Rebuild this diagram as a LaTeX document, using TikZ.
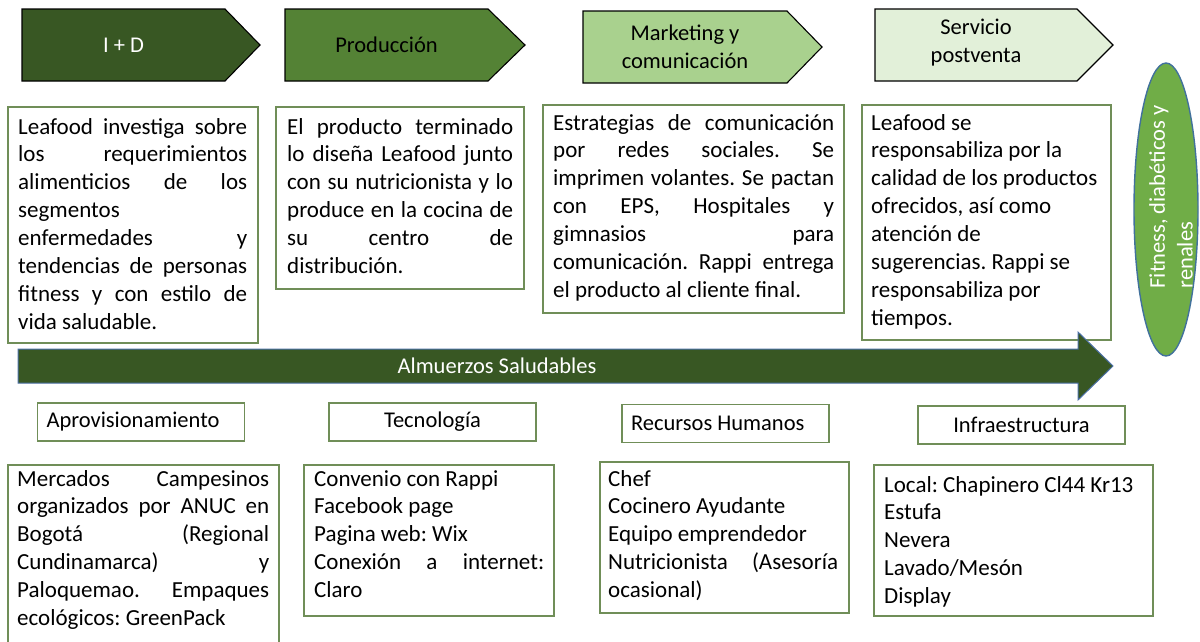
\documentclass[tikz,border=0pt]{standalone}
\usepackage{fontspec}
\setmainfont{Carlito}
\usetikzlibrary{shapes.geometric}
\frenchspacing
\definecolor{gD}{HTML}{385723}
\definecolor{gM}{HTML}{548235}
\definecolor{gL}{HTML}{A9D18E}
\definecolor{gXL}{HTML}{E2F0D9}
\definecolor{gA}{HTML}{70AD47}
\definecolor{bordG}{HTML}{708E58}
\definecolor{bordB}{HTML}{41719C}
\definecolor{arrB}{HTML}{4A6FA5}
\newcommand\bodyfont{\fontsize{23pt}{27.9pt}\selectfont}
\newcommand\labfont{\fontsize{22.5pt}{27.9pt}\selectfont}
\newcommand\rs{\spaceskip=0pt\xspaceskip=0pt\relax}
\newcommand\J[1]{{\rs\makebox[\linewidth][s]{#1}}}
\begin{document}
\begin{tikzpicture}[x=1pt,y=-1pt,
  chev/.style={draw=black,line width=1.1pt},
  boxframe/.style={draw=bordG,line width=1.1pt,inner sep=0pt},
  txt/.style={inner sep=0pt,font=\bodyfont,align=left,anchor=base west,execute at begin node={\rs}},
  lab/.style={draw=bordG,line width=1.1pt,font=\labfont,inner ysep=0pt,inner xsep=9pt,minimum width=207,minimum height=38,execute at begin node={\rs}},
  chevtxt/.style={font=\labfont,align=center,inner sep=0pt,execute at begin node={\rs}}]
\useasboundingbox (0,0) rectangle (1200,641);
\clip (0,0) rectangle (1200,641);
\fill[white] (0,0) rectangle (1200,641);

% chevrons
\draw[chev,fill=gD] (22,9) -- (225,9) -- (260,45) -- (225,81) -- (22,81) -- cycle;
\draw[chev,fill=gM] (285,9) -- (488,9) -- (525,45) -- (488,81) -- (285,81) -- cycle;
\draw[chev,fill=gL] (583,11) -- (787,11) -- (822,47) -- (787,83) -- (583,83) -- cycle;
\draw[chev,fill=gXL] (875,9) -- (1077,9) -- (1113,45) -- (1077,81) -- (875,81) -- cycle;
\node[chevtxt,text=white] (c1) at (123.5,45) {I + D};
\node[chevtxt] (c2) at (386.5,45) {Producción};
\node[chevtxt] (c3) at (685,47) {Marketing y\\comunicación};
\node[chevtxt] (c4) at (976,43) {Servicio\\postventa};

% top text boxes
\node[boxframe,minimum width=250,minimum height=236] (t1f) at (133,225) {};
\node[txt,text width=229] (t1) at (18,134) {\J{Leafood investiga sobre}\\\J{los requerimientos}\\\J{alimenticios de los}\\segmentos\\\J{enfermedades y}\\\J{tendencias de personas}\\\J{fitness y con estilo de}\\vida saludable.};

\node[boxframe,minimum width=248,minimum height=182] (t2f) at (400,198) {};
\node[txt,text width=226] (t2) at (287,134) {\J{El producto terminado}\\\J{lo diseña Leafood junto}\\\J{con su nutricionista y lo}\\\J{produce en la cocina de}\\\J{su centro de}\\distribución.};

\node[boxframe,minimum width=301,minimum height=208] (t3f) at (693.5,209) {};
\node[txt,text width=281] (t3) at (553,130) {\J{Estrategias de comunicación}\\\J{por redes sociales. Se}\\\J{imprimen volantes. Se pactan}\\\J{con EPS, Hospitales y}\\\J{gimnasios para}\\\J{comunicación. Rappi entrega}\\el producto al cliente final.};

\node[boxframe,minimum width=249,minimum height=235] (t4f) at (986.5,222.5) {};
\node[txt,text width=230] (t4) at (871,130) {Leafood se\\responsabiliza por la\\calidad de los productos\\ofrecidos, así como\\atención de\\sugerencias. Rappi se\\responsabiliza por\\tiempos.};

% oval
\node[ellipse,draw=bordB,line width=1.4pt,fill=gA,minimum width=64,minimum height=293,inner sep=0pt] (oval) at (1166,209.5) {};
\node[font=\labfont,text=white,rotate=90,align=left,inner sep=0pt,execute at begin node={\rs}] (ovt) at (1171,197) {Fitness, diabéticos y\\renales};

% big arrow
\draw[fill=gD,draw=arrB,line width=1pt] (18,349) -- (1078,349) -- (1078,332) -- (1113,366) -- (1078,400) -- (1078,383) -- (18,383) -- cycle;
\node[font=\labfont,text=white,inner sep=0pt] (arrt) at (497,366) {Almuerzos Saludables};

% labels
\node[lab,text width=189,align=left] (l1) at (141,422) {Aprovisionamiento};
\node[lab,align=center] (l2) at (432.5,422) {Tecnología};
\node[lab,text width=189,align=left] (l3) at (725.5,423.5) {Recursos Humanos};
\node[lab,align=center] (l4) at (1021.5,425) {Infraestructura};

% bottom boxes
\node[boxframe,minimum width=271,minimum height=235] (b1f) at (143.5,582.5) {};
\node[txt,text width=252] (b1) at (17,486) {\J{Mercados Campesinos}\\\J{organizados por ANUC en}\\\J{Bogotá (Regional}\\\J{Cundinamarca) y}\\\J{Paloquemao. Empaques}\\ecológicos: GreenPack};

\node[boxframe,minimum width=250,minimum height=151] (b2f) at (429,540.5) {};
\node[txt,text width=230] (b2) at (314,486) {Convenio con Rappi\\Facebook page\\Pagina web: Wix\\\J{Conexión a internet:}\\Claro};

\node[boxframe,minimum width=249,minimum height=151] (b3f) at (724.5,537.5) {};
\node[txt,text width=230] (b3) at (608,486) {Chef\\Cocinero Ayudante\\Equipo emprendedor\\\J{Nutricionista (Asesoría}\\ocasional)};

\node[boxframe,minimum width=279,minimum height=151] (b4f) at (1013.5,540.5) {};
\node[txt,text width=260] (b4) at (884,492) {Local: Chapinero Cl44 Kr13\\Estufa\\Nevera\\Lavado/Mesón\\Display};
\end{tikzpicture}
\end{document}
